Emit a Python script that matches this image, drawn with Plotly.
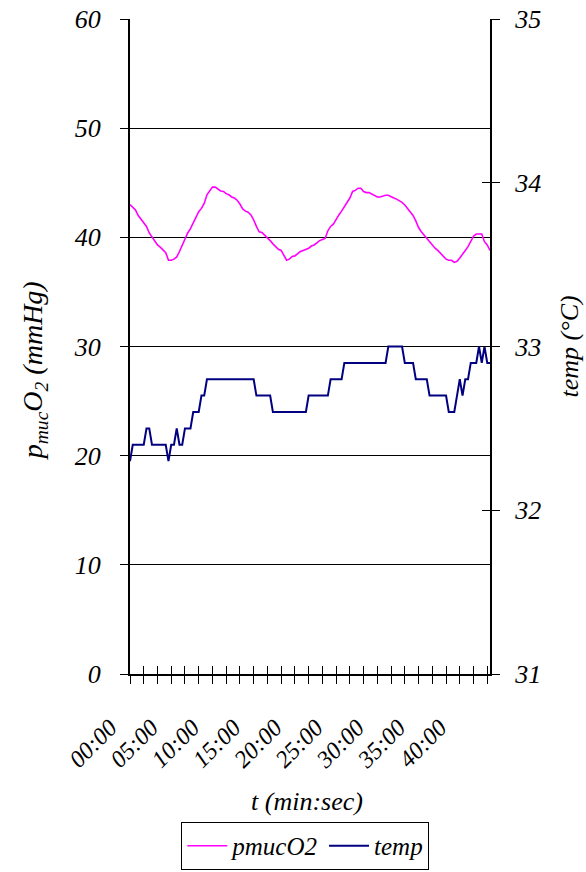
import plotly.graph_objects as go

# sampling: one reading every 20 s
sample_step_s = 20

pmuc_o2 = [
    43.0, 42.7, 42.5, 42.0, 41.65, 41.3, 41.0, 40.4, 40.0, 39.6,
    39.3, 39.1, 38.8, 38.6, 37.9, 37.9, 38.0, 38.2, 38.7, 39.3,
    39.8, 40.4, 40.8, 41.3, 41.9, 42.35, 42.65, 43.1, 43.9, 44.3,
    44.6, 44.6, 44.4, 44.25, 44.2, 44.0, 43.9, 43.7, 43.6, 43.4,
    43.05, 42.6, 42.4, 42.3, 42.05, 41.6, 41.0, 40.5, 40.45, 40.2,
    40.0, 39.7, 39.4, 39.1, 38.9, 38.8, 38.4, 37.9, 38.0, 38.25,
    38.3, 38.5, 38.7, 38.8, 38.9, 39.0, 39.2, 39.3, 39.5, 39.7,
    39.8, 39.9, 40.6, 41.0, 41.2, 41.7, 42.05, 42.4, 42.8, 43.2,
    43.6, 44.2, 44.3, 44.5, 44.5, 44.2, 44.1, 44.1, 43.97, 43.8,
    43.7, 43.7, 43.8, 43.85, 43.85, 43.7, 43.6, 43.5, 43.35, 43.2,
    42.96, 42.65, 42.3, 42.0, 41.5, 40.9, 40.5, 40.2, 39.8, 39.5,
    39.2, 39.0, 38.8, 38.5, 38.2, 38.0, 37.9, 37.9, 37.7, 37.8,
    38.1, 38.4, 38.8, 39.15, 39.6, 40.1, 40.3, 40.3, 40.3, 39.6,
    39.3, 38.8,
]

temp = [
    32.3, 32.4, 32.4, 32.4, 32.4, 32.4, 32.5, 32.5, 32.4, 32.4,
    32.4, 32.4, 32.4, 32.4, 32.3, 32.4, 32.4, 32.5, 32.4, 32.4,
    32.5, 32.5, 32.5, 32.6, 32.6, 32.6, 32.7, 32.7, 32.8, 32.8,
    32.8, 32.8, 32.8, 32.8, 32.8, 32.8, 32.8, 32.8, 32.8, 32.8,
    32.8, 32.8, 32.8, 32.8, 32.8, 32.8, 32.7, 32.7, 32.7, 32.7,
    32.7, 32.7, 32.6, 32.6, 32.6, 32.6, 32.6, 32.6, 32.6, 32.6,
    32.6, 32.6, 32.6, 32.6, 32.6, 32.7, 32.7, 32.7, 32.7, 32.7,
    32.7, 32.7, 32.7, 32.8, 32.8, 32.8, 32.8, 32.8, 32.9, 32.9,
    32.9, 32.9, 32.9, 32.9, 32.9, 32.9, 32.9, 32.9, 32.9, 32.9,
    32.9, 32.9, 32.9, 32.9, 33.0, 33.0, 33.0, 33.0, 33.0, 33.0,
    32.9, 32.9, 32.9, 32.9, 32.8, 32.8, 32.8, 32.8, 32.8, 32.7,
    32.7, 32.7, 32.7, 32.7, 32.7, 32.7, 32.6, 32.6, 32.6, 32.7,
    32.8, 32.7, 32.8, 32.8, 32.9, 32.9, 32.9, 33.0, 32.9, 33.0,
    32.9, 32.9,
]

time_s = [i * sample_step_s for i in range(len(pmuc_o2))]

# category tick marks every 100 s, labels every 5 min
tick_step_s = 100
tick_positions = list(range(0, time_s[-1] + 1, tick_step_s))
time_labels = ["00:00", "05:00", "10:00", "15:00", "20:00",
               "25:00", "30:00", "35:00", "40:00"]
label_every_s = 300
tick_text = []
for v in tick_positions:
    if v % label_every_s == 0 and v // label_every_s < len(time_labels):
        tick_text.append(time_labels[v // label_every_s])
    else:
        tick_text.append("")

FONT = "Liberation Serif, Times New Roman, serif"


def ital(size):
    return dict(family=FONT, size=size, color="black", style="italic")


fig = go.Figure()
fig.add_trace(go.Scatter(x=time_s, y=pmuc_o2, name="pmucO2", mode="lines",
                         line=dict(color="#FF00FF", width=1.6),
                         xaxis="x", yaxis="y"))
fig.add_trace(go.Scatter(x=time_s, y=temp, name="temp", mode="lines",
                         line=dict(color="#000080", width=2),
                         xaxis="x", yaxis="y2"))

xr = [0, time_s[-1]]
fig.update_layout(
    width=586, height=872,
    margin=dict(l=130, r=96, t=19, b=198, autoexpand=False),
    paper_bgcolor="white", plot_bgcolor="white",
    font=ital(26),
    showlegend=True,
    legend=dict(orientation="h", x=0.487, xanchor="center", y=-0.2992, yanchor="bottom",
                bordercolor="black", borderwidth=1, font=ital(25),
                itemwidth=40, tracegroupgap=0),
    xaxis=dict(range=xr, tickmode="array", tickvals=tick_positions, ticktext=tick_text,
               ticks="outside", ticklen=8, tickcolor="black", tickwidth=1,
               showline=True, linecolor="black", linewidth=2, showgrid=False,
               zeroline=False, tickangle=-45, tickfont=ital(24), automargin=False,
               ticklabelstandoff=20, ticklabelshift=-20),
    xaxis2=dict(range=xr, overlaying="x", anchor="y", side="bottom",
                tickmode="array", tickvals=tick_positions,
                ticks="inside", ticklen=8, tickcolor="black", tickwidth=1,
                showticklabels=False, showline=False, showgrid=False, zeroline=False),
    yaxis=dict(range=[0, 60], dtick=10, tick0=0, showgrid=True, gridcolor="black",
               gridwidth=1, showline=True, linecolor="black", linewidth=2,
               ticks="outside", ticklen=8, tickcolor="black", zeroline=False,
               tickfont=ital(26), ticklabelstandoff=14, automargin=False),
    yaxis2=dict(range=[31, 35], dtick=1, tick0=31, overlaying="y", side="right",
                anchor="x", showgrid=False, showline=True, linecolor="black",
                linewidth=2, ticks="outside", ticklen=8, tickcolor="black",
                zeroline=False, tickfont=ital(26), ticklabelstandoff=10, automargin=False),
    yaxis3=dict(range=[31, 35], dtick=1, tick0=31, overlaying="y", side="right",
                anchor="x", showgrid=False, showline=False, ticks="inside",
                ticklen=8, tickcolor="black", showticklabels=False, zeroline=False),
    annotations=[
        dict(text="t (min:sec)", xref="paper", yref="paper", x=0.4917, y=-0.1954,
             xanchor="center", yanchor="middle", showarrow=False, font=ital(26)),
        dict(text="p<sub>muc</sub>O<sub>2</sub> (mmHg)", xref="paper", yref="paper",
             x=-0.263, y=0.4626, xanchor="center", yanchor="middle", textangle=-90,
             showarrow=False, font=ital(28)),
        dict(text="temp (°C)", xref="paper", yref="paper", x=1.222, y=0.5,
             xanchor="center", yanchor="middle", textangle=-90,
             showarrow=False, font=ital(26)),
    ],
)
# invisible helper trace so the crossing-tick helper axes render
fig.add_trace(go.Scatter(x=[xr[0]], y=[31], xaxis="x2", yaxis="y3",
                         mode="markers", marker=dict(opacity=0),
                         showlegend=False, hoverinfo="skip"))

fig.write_html("out.html")
